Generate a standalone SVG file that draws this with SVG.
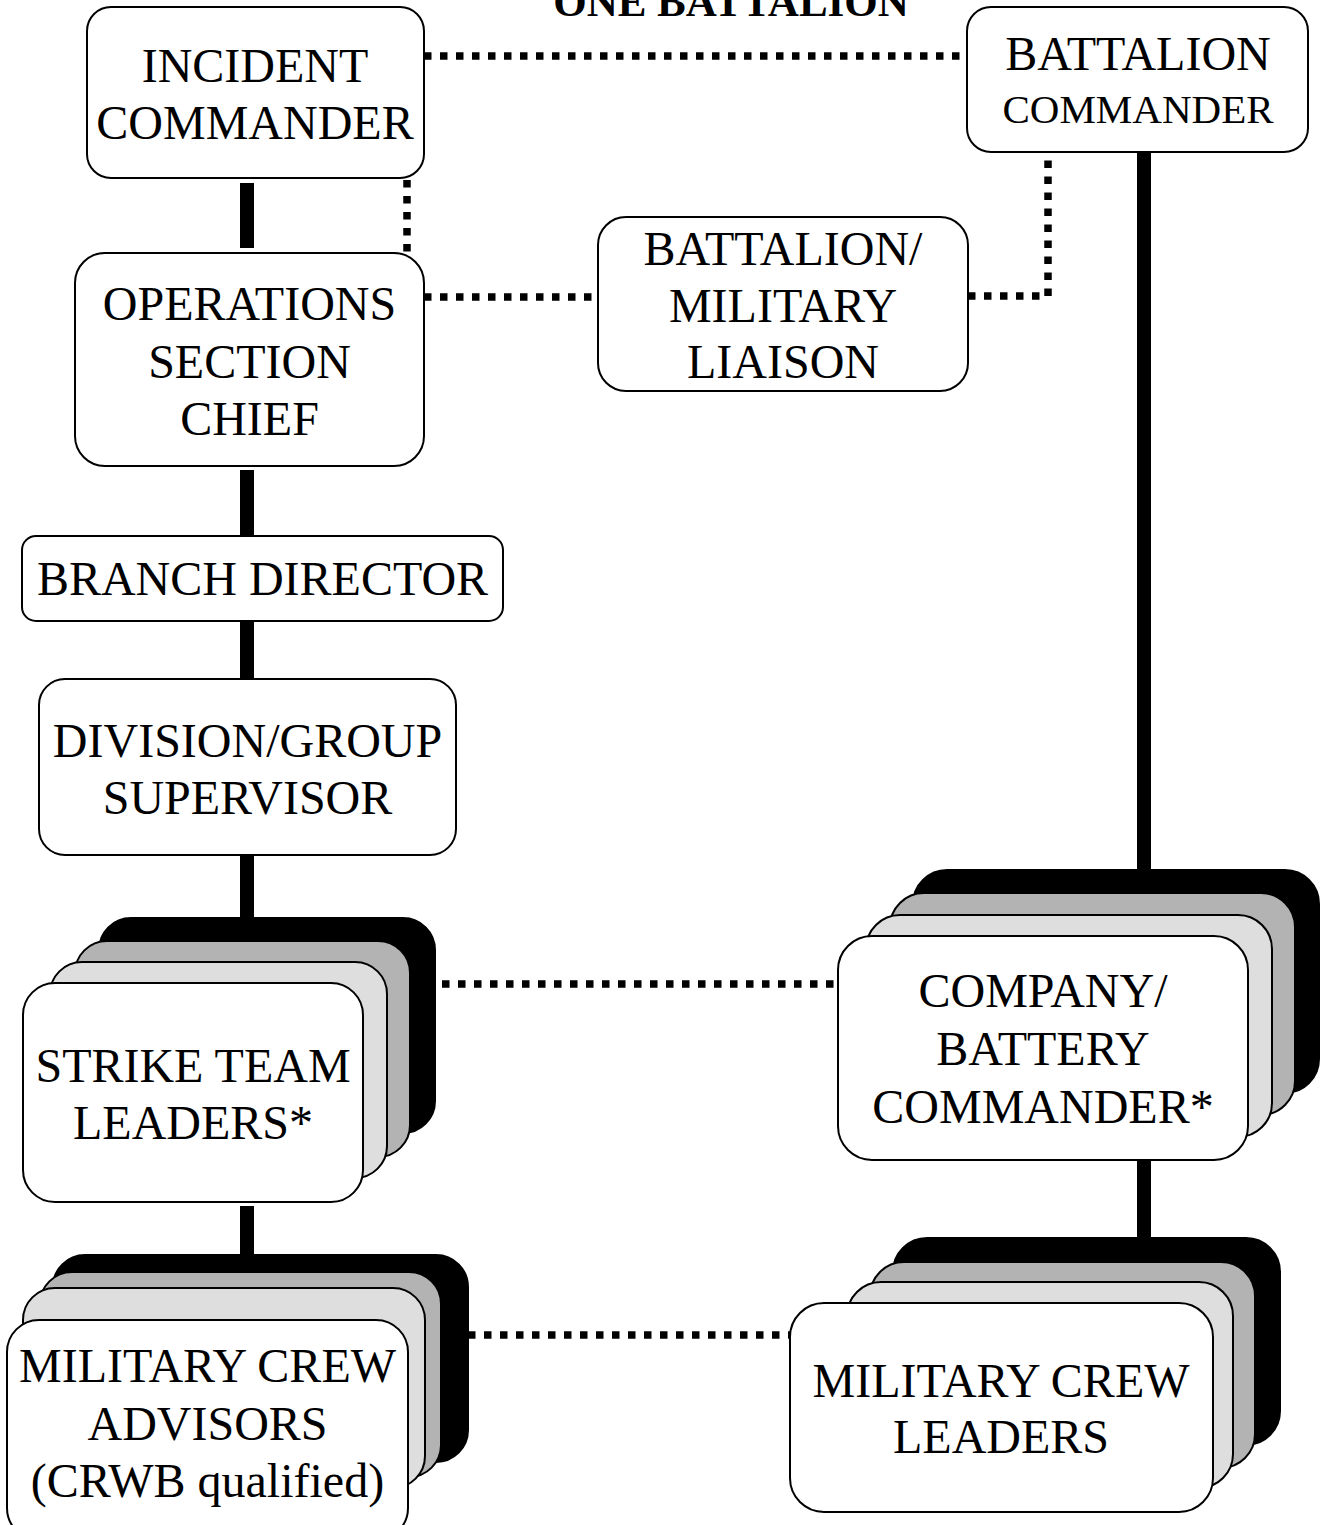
<svg xmlns="http://www.w3.org/2000/svg" width="1323" height="1525" viewBox="0 0 1323 1525">
<style>
  .box { fill: #ffffff; stroke: #000000; stroke-width: 2; }
  .b3 { fill: #000000; stroke: #000000; stroke-width: 2; }
  .b2 { fill: #b3b3b3; stroke: #000000; stroke-width: 2; }
  .b1 { fill: #dedede; stroke: #000000; stroke-width: 2; }
  .lbl { font-family: "Liberation Serif", "Times New Roman", serif; font-size: 48px; fill: #000000; text-anchor: middle; }
  .title { font-family: "Liberation Serif", "Times New Roman", serif; font-size: 43px; font-weight: bold; fill: #000000; text-anchor: middle; }
  .solid { stroke: #000000; stroke-width: 14; fill: none; }
  .dot { stroke: #000000; stroke-width: 7.5; fill: none; stroke-dasharray: 7.5 8.5; }
</style>
<rect x="0" y="0" width="1323" height="1525" fill="#ffffff"/>
<text class="title" x="731" y="16">ONE BATTALION</text>
<g id="connectors">
  <line class="solid" x1="247" y1="183" x2="247" y2="248"/>
  <line class="solid" x1="247" y1="470" x2="247" y2="537"/>
  <line class="solid" x1="247" y1="620" x2="247" y2="680"/>
  <line class="solid" x1="247" y1="855" x2="247" y2="920"/>
  <line class="solid" x1="247" y1="1206" x2="247" y2="1257"/>
  <line class="solid" x1="1144" y1="152" x2="1144" y2="872"/>
  <line class="solid" x1="1144" y1="1158" x2="1144" y2="1240"/>
  <line class="dot" x1="424" y1="56" x2="967" y2="56"/>
  <line class="dot" x1="407" y1="180" x2="407" y2="253"/>
  <line class="dot" x1="424" y1="297" x2="598" y2="297"/>
  <path class="dot" d="M968 296 H1048 V158"/>
  <line class="dot" x1="410" y1="984" x2="838" y2="984"/>
  <line class="dot" x1="468" y1="1335" x2="790" y2="1335"/>
</g>
<g id="incident-commander">
  <rect class="box" x="87" y="7" width="337" height="171" rx="24"/>
  <text class="lbl" x="255" y="82">INCIDENT</text>
  <text class="lbl" x="255" y="139">COMMANDER</text>
</g>
<g id="battalion-commander">
  <rect class="box" x="967" y="7" width="341" height="145" rx="24"/>
  <text class="lbl" x="1138" y="70">BATTALION</text>
  <text class="lbl" x="1138" y="123" style="font-size:41px">COMMANDER</text>
</g>
<g id="operations-section-chief">
  <rect class="box" x="75" y="253" width="349" height="213" rx="30"/>
  <text class="lbl" x="249.5" y="320">OPERATIONS</text>
  <text class="lbl" x="249.5" y="378">SECTION</text>
  <text class="lbl" x="249.5" y="435">CHIEF</text>
</g>
<g id="battalion-military-liaison">
  <rect class="box" x="598" y="217" width="370" height="174" rx="28"/>
  <text class="lbl" x="783" y="265">BATTALION/</text>
  <text class="lbl" x="783" y="322">MILITARY</text>
  <text class="lbl" x="783" y="378">LIAISON</text>
</g>
<g id="branch-director">
  <rect class="box" x="22" y="536" width="481" height="85" rx="14"/>
  <text class="lbl" x="262.5" y="595">BRANCH DIRECTOR</text>
</g>
<g id="division-group-supervisor">
  <rect class="box" x="39" y="679" width="417" height="176" rx="26"/>
  <text class="lbl" x="247.5" y="757">DIVISION/GROUP</text>
  <text class="lbl" x="247.5" y="814">SUPERVISOR</text>
</g>
<g id="strike-team-leaders">
  <rect class="b3" x="99" y="918" width="336" height="215" rx="32"/>
  <rect class="b2" x="75" y="941" width="335" height="216" rx="32"/>
  <rect class="b1" x="50" y="962" width="337" height="216" rx="32"/>
  <rect class="box" x="23" y="983" width="340" height="219" rx="32"/>
  <text class="lbl" x="193" y="1082">STRIKE TEAM</text>
  <text class="lbl" x="193" y="1139">LEADERS*</text>
</g>
<g id="company-battery-commander">
  <rect class="b3" x="913" y="870" width="406" height="223" rx="34"/>
  <rect class="b2" x="890" y="893" width="405" height="222" rx="34"/>
  <rect class="b1" x="866" y="915" width="406" height="222" rx="34"/>
  <rect class="box" x="838" y="936" width="410" height="224" rx="34"/>
  <text class="lbl" x="1043" y="1007">COMPANY/</text>
  <text class="lbl" x="1043" y="1065">BATTERY</text>
  <text class="lbl" x="1043" y="1123">COMMANDER*</text>
</g>
<g id="military-crew-advisors">
  <rect class="b3" x="53" y="1255" width="415" height="207" rx="32"/>
  <rect class="b2" x="40" y="1272" width="401" height="205" rx="32"/>
  <rect class="b1" x="23" y="1288" width="402" height="200" rx="32"/>
  <rect class="box" x="7" y="1320" width="401" height="220" rx="32"/>
  <text class="lbl" x="207.5" y="1382">MILITARY CREW</text>
  <text class="lbl" x="207.5" y="1440">ADVISORS</text>
  <text class="lbl" x="207.5" y="1497">(CRWB qualified)</text>
</g>
<g id="military-crew-leaders">
  <rect class="b3" x="893" y="1238" width="387" height="207" rx="34"/>
  <rect class="b2" x="870" y="1262" width="385" height="206" rx="34"/>
  <rect class="b1" x="847" y="1282" width="386" height="206" rx="34"/>
  <rect class="box" x="790" y="1303" width="423" height="209" rx="34"/>
  <text class="lbl" x="1001" y="1397">MILITARY CREW</text>
  <text class="lbl" x="1001" y="1453">LEADERS</text>
</g>
</svg>
